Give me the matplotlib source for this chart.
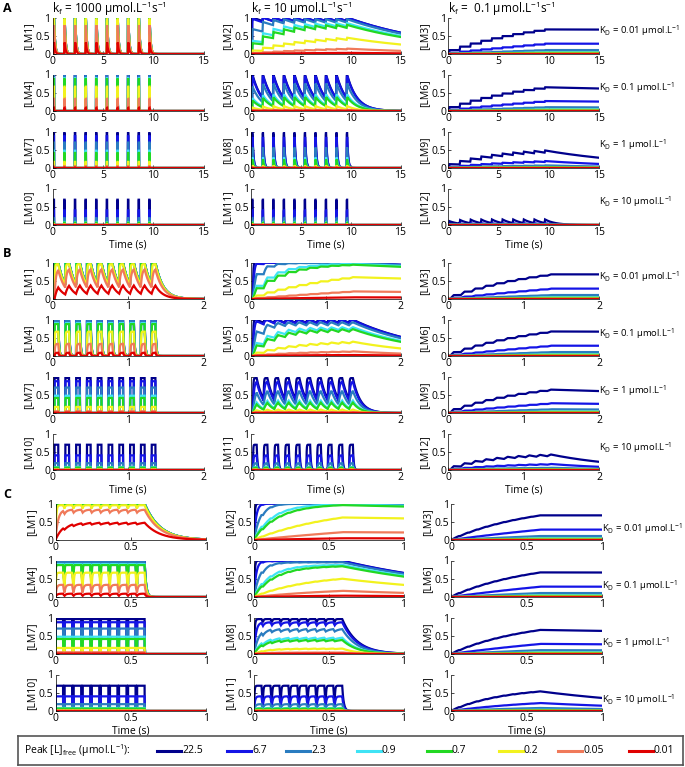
import numpy as np
import matplotlib
matplotlib.use("Agg")
import matplotlib.pyplot as plt

plt.rcParams['font.family'] = ['Open Sans', 'DejaVu Sans']
plt.rcParams['mathtext.fontset'] = 'custom'
plt.rcParams['mathtext.rm'] = 'Open Sans'
plt.rcParams['mathtext.it'] = 'Open Sans'

W, H = 685, 767

# values
kf_vals = [1000, 10, 0.1]                 # umol-1 L s-1, one per column
kd_vals = [0.01, 0.1, 1, 10]              # umol/L, one per row
kf_text = ['1000', '10', ' 0.1']
kd_text = ['0.01', '0.1', '1', '10']
peak_L = [22.5, 6.7, 2.3, 0.9, 0.7, 0.2, 0.05, 0.01]
peak_text = ['22.5', '6.7', '2.3', '0.9', '0.7', '0.2', '0.05', '0.01']
colors = ['#00008c', '#1414e6', '#2a7cc0', '#3fe3f5', '#22d822', '#f2f21e', '#f07a5a', '#e00000']

panels = ['A', 'B', 'C']
t_end = [15, 2, 1]
pulse_start = [0.1, 0.026, 0.0]
pulse_period = [1.055, 0.143, 0.06]
pulse_width = 0.05
n_pulses = 10
xticks = [[0, 5, 10, 15], [0, 1, 2], [0, 0.5, 1]]
xticklabels = [['0', '5', '10', '15'], ['0', '1', '2'], ['0', '0.5', '1']]

# layout (pixels)
col_x = [(52.5, 203.5), (251, 400.5), (448, 599)]
panel_top = [17.5, 262.5, 503.5]
panel_dx = [0, 0, 3]
kd_label_y = [0.65, 0.62, 0.3]
row_step = 57
ax_h = 36.5


def simulate(t1, onsets, width, kf, kd):
    t = np.unique(np.concatenate([np.linspace(0, t1, 3000), onsets, onsets + width]))
    t = t[t <= t1]
    L0 = np.array(peak_L)
    lm = np.zeros((len(t), len(L0)))
    kr = kf * kd
    for i in range(1, len(t)):
        mid = 0.5 * (t[i - 1] + t[i])
        on = np.any((mid >= onsets) & (mid < onsets + width))
        L = L0 if on else 0 * L0
        k = kf * L + kr
        eq = kf * L / k
        lm[i] = eq + (lm[i - 1] - eq) * np.exp(-k * (t[i] - t[i - 1]))
    return t, lm


fig = plt.figure(figsize=(W / 100, H / 100), dpi=100)


def rect(x0, x1, y0, y1):
    return [x0 / W, 1 - y1 / H, (x1 - x0) / W, (y1 - y0) / H]


for p in range(3):
    onsets = pulse_start[p] + pulse_period[p] * np.arange(n_pulses)
    for r in range(4):
        for c in range(3):
            x0, x1 = col_x[c]
            y0 = panel_top[p] + r * row_step
            ax = fig.add_axes(rect(x0 + panel_dx[p], x1 + panel_dx[p], y0, y0 + ax_h))
            t, lm = simulate(t_end[p], onsets, pulse_width, kf_vals[c], kd_vals[r])
            for j in range(len(peak_L)):
                ax.plot(t, lm[:, j], color=colors[j], lw=1.6, solid_joinstyle='miter')
            ax.set_xlim(0, t_end[p])
            ax.set_ylim(0, 1)
            ax.set_xticks(xticks[p])
            ax.set_xticklabels(xticklabels[p])
            ax.set_yticks([0, 0.5, 1])
            ax.set_yticklabels(['0', '0.5', '1'])
            ax.tick_params(direction='in', length=2, width=0.5, labelsize=7.5, pad=1.5)
            for s in ['top', 'right']:
                ax.spines[s].set_visible(False)
            for s in ['left', 'bottom']:
                ax.spines[s].set_linewidth(0.5)
            ax.set_ylabel('[LM%d]' % (3 * r + c + 1), fontsize=7.5, labelpad=1)
            if r == 3:
                ax.set_xlabel('Time (s)', fontsize=7.5, labelpad=1)
            if p == 0 and r == 0:
                ax.set_title('k$_f$ = %s µmol.L$^{-1}$s$^{-1}$' % kf_text[c],
                             fontsize=8.5, loc='left', pad=1)
            if c == 2:
                ax.text(1.0, kd_label_y[p], 'K$_D$ = %s µmol.L$^{-1}$' % kd_text[r],
                        transform=ax.transAxes, fontsize=6.8, ha='left', va='center')
    fig.text(3 / W, 1 - (panel_top[p] - 9) / H, panels[p], fontsize=9,
             fontweight='bold', va='center', ha='left')

# legend box
lax = fig.add_axes(rect(18, 683, 736, 765))
lax.set_xlim(18, 683)
lax.set_ylim(0, 1)
lax.set_xticks([])
lax.set_yticks([])
for s in lax.spines.values():
    s.set_edgecolor('#555555')
    s.set_linewidth(1.2)
lax.text(24, 0.5, 'Peak [L]$_{\\mathrm{free}}$ (µmol.L$^{-1}$):', fontsize=7.5, va='center')
leg_x = [157, 227, 286, 357, 427, 499, 558, 629]
for j in range(len(peak_L)):
    lax.plot([leg_x[j], leg_x[j] + 24], [0.5, 0.5], color=colors[j], lw=2.2)
    lax.text(leg_x[j] + 25, 0.5, peak_text[j], fontsize=7.5, va='center')

fig.savefig('out.png', dpi=100)
